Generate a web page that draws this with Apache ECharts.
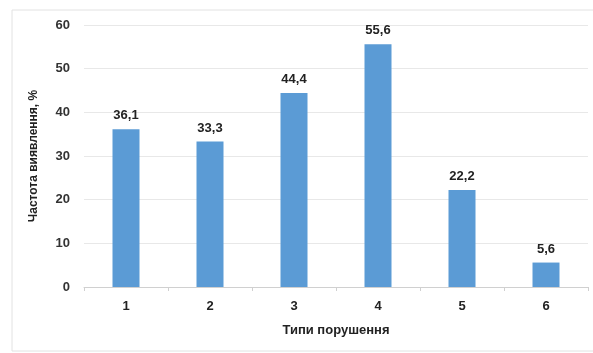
<!DOCTYPE html>
<html>
<head>
<meta charset="utf-8">
<script src="https://cdn.jsdelivr.net/npm/echarts@6/dist/echarts.min.js"></script>
<style>
html,body{margin:0;padding:0;background:#fff;}
#chart{width:593px;height:353px;}
</style>
</head>
<body>
<div id="chart"></div>
<script>
// типи порушень і частота виявлення
var categories=['1','2','3','4','5','6'];
var values=[36.1,33.3,44.4,55.6,22.2,5.6];
var yTicks=[0,10,20,30,40,50,60];

var myChart=echarts.init(document.getElementById('chart'));
var option={
	backgroundColor:'#fff',
	animation:false,
	graphic:[
		{
			type:'rect',
			shape:{x:12,y:10,width:600,height:341},
			style:{fill:'none',stroke:'#e2e2e2',lineWidth:1},
			silent:true
		}
	],
	grid:{left:84,right:5,top:25,bottom:66},
	xAxis:{
		type:'category',
		data:categories,
		name:'Типи порушення',
		nameLocation:'middle',
		nameGap:37,
		nameTextStyle:{color:'#222',fontSize:13,fontWeight:'bold',fontFamily:'Liberation Sans'},
		axisLine:{lineStyle:{color:'#d0d0d0',width:1}},
		axisTick:{show:true,length:4,lineStyle:{color:'#d0d0d0'}},
		axisLabel:{color:'#222',fontSize:13,fontWeight:'bold',margin:13,fontFamily:'Liberation Sans'}
	},
	yAxis:{
		type:'value',
		min:yTicks[0],
		max:yTicks[yTicks.length-1],
		interval:10,
		name:'Частота виявлення, %',
		nameLocation:'middle',
		nameGap:44,
		nameTextStyle:{color:'#222',fontSize:12,fontWeight:'bold',fontFamily:'Liberation Sans'},
		axisLine:{show:false},
		axisTick:{show:false},
		axisLabel:{color:'#333',fontSize:13,fontWeight:'bold',margin:14,fontFamily:'Liberation Sans'},
		splitLine:{lineStyle:{color:'#e8e8e8',width:1}}
	},
	series:[
		{
			type:'bar',
			data:values,
			barWidth:27,
			itemStyle:{color:'#5b9bd5'},
			label:{
				show:true,
				position:'top',
				distance:7,
				color:'#222',
				fontSize:13,
				fontWeight:'bold',
				fontFamily:'Liberation Sans',
				formatter:function(p){return String(p.value).replace('.',',');}
			}
		}
	]
};
myChart.setOption(option);
</script>
</body>
</html>
